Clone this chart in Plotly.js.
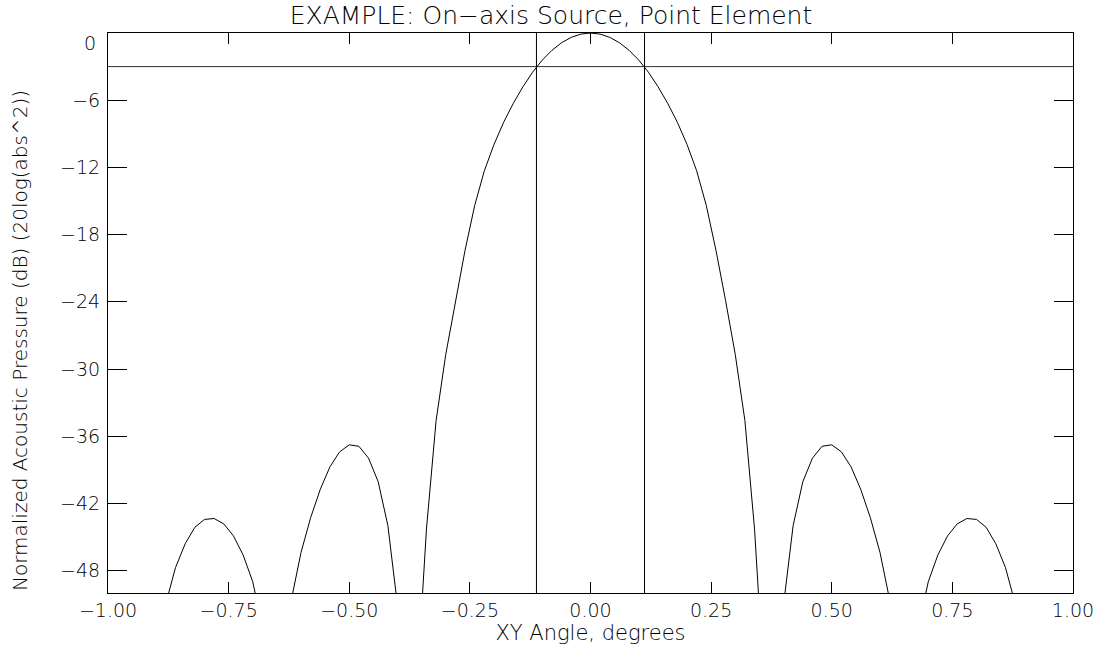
<!DOCTYPE html>
<html>
<head>
<meta charset="utf-8">
<script src="https://cdn.plot.ly/plotly-3.0.1.min.js"></script>
<style>html,body{margin:0;padding:0;background:#fff;}#chart{width:1104px;height:653px;}</style>
</head>
<body>
<div id="chart"></div>
<script>
// XY angle (degrees), sampled every 0.02
const angles = [
 -1.00,-0.98,-0.96,-0.94,-0.92,-0.90,-0.88,-0.86,-0.84,-0.82,
 -0.80,-0.78,-0.76,-0.74,-0.72,-0.70,-0.68,-0.66,-0.64,-0.62,
 -0.60,-0.58,-0.56,-0.54,-0.52,-0.50,-0.48,-0.46,-0.44,-0.42,
 -0.40,-0.38,-0.36,-0.34,-0.32,-0.30,-0.28,-0.26,-0.24,-0.22,
 -0.20,-0.18,-0.16,-0.14,-0.12,-0.10,-0.08,-0.06,-0.04,-0.02,
  0.00,
  0.02, 0.04, 0.06, 0.08, 0.10, 0.12, 0.14, 0.16, 0.18, 0.20,
  0.22, 0.24, 0.26, 0.28, 0.30, 0.32, 0.34, 0.36, 0.38, 0.40,
  0.42, 0.44, 0.46, 0.48, 0.50, 0.52, 0.54, 0.56, 0.58, 0.60,
  0.62, 0.64, 0.66, 0.68, 0.70, 0.72, 0.74, 0.76, 0.78, 0.80,
  0.82, 0.84, 0.86, 0.88, 0.90, 0.92, 0.94, 0.96, 0.98, 1.00
];
// Normalized acoustic pressure, dB
const pressureDb = [
 -55,-54,-55,-58,-63,-57,-50.9,-47.72,-45.6,-44.13,
 -43.43,-43.35,-43.83,-44.9,-46.6,-49.0,-53,-68,-60,-50.6,
 -46.39,-43.27,-40.74,-38.73,-37.4,-36.77,-36.9,-37.96,-40.07,-43.97,
 -51.1,-65,-58.5,-44.3,-34.6,-28.7,-23.9,-19.4,-15.4,-12.3,
 -9.95,-7.97,-6.28,-4.80,-3.50,-2.42,-1.55,-0.87,-0.39,-0.10,
  0,
 -0.10,-0.39,-0.87,-1.55,-2.42,-3.50,-4.80,-6.28,-7.97,-9.95,
 -12.3,-15.4,-19.4,-23.9,-28.7,-34.6,-44.3,-58.5,-65,-51.1,
 -43.97,-40.07,-37.96,-36.9,-36.77,-37.4,-38.73,-40.74,-43.27,-46.39,
 -50.6,-60,-68,-53,-49.0,-46.6,-44.9,-43.83,-43.35,-43.43,
 -44.13,-45.6,-47.72,-50.9,-57,-63,-58,-55,-54,-55
];
// -3 dB level and beam edges
const halfPowerDb = -3;
const beamEdges = [-0.112, 0.112];
const xRange = [-1, 1];
const yRange = [-50, 0];

const xTickVals = [-1.00,-0.75,-0.50,-0.25,0.00,0.25,0.50,0.75,1.00];
const xTickText = ['\u22121.00','\u22120.75','\u22120.50','\u22120.25','0.00','0.25','0.50','0.75','1.00'];
const yTickVals = [0,-6,-12,-18,-24,-30,-36,-42,-48];
const yTickText = ['','\u22126','\u221212','\u221218','\u221224','\u221230','\u221236','\u221242','\u221248'];

const FONT = 'DejaVu Sans, Liberation Sans, sans-serif';
const W = 200;
const lineStyle = {color:'#000', width:1};

const traces = [
  {x: angles, y: pressureDb, type:'scatter', mode:'lines', line: lineStyle, hoverinfo:'x+y'},
  {x: xRange, y: [halfPowerDb, halfPowerDb], type:'scatter', mode:'lines', line:{color:'#333', width:1}},
  {x: [beamEdges[0], beamEdges[0]], y: yRange, type:'scatter', mode:'lines', line: lineStyle},
  {x: [beamEdges[1], beamEdges[1]], y: yRange, type:'scatter', mode:'lines', line: lineStyle}
];

const layout = {
  width: 1104, height: 653,
  margin: {l:108, r:31, t:33, b:60},
  paper_bgcolor:'#fff', plot_bgcolor:'#fff',
  showlegend:false,
  font:{family:FONT, color:'#000', size:19, weight:W},
  title:{text:'EXAMPLE: On\u2212axis Source, Point Element', x:551/1104, xref:'container', xanchor:'center',
         y:1-15/653, yref:'container', yanchor:'middle', font:{family:FONT, size:25, color:'#000', weight:W}},
  xaxis:{range:xRange, tickvals:xTickVals, ticktext:xTickText, ticks:'inside', ticklen:11, tickwidth:1,
         tickcolor:'#000', showline:true, linecolor:'#000', linewidth:1, mirror:'ticks',
         showgrid:false, zeroline:false, tickfont:{family:FONT, size:19, weight:W},
         title:{text:'XY Angle, degrees', font:{family:FONT, size:21, weight:W}, standoff:1}},
  yaxis:{range:yRange, tickvals:yTickVals, ticktext:yTickText, ticks:'inside', ticklen:19, tickwidth:1,
         tickcolor:'#000', showline:true, linecolor:'#000', linewidth:1, mirror:'ticks',
         showgrid:false, zeroline:false, tickfont:{family:FONT, size:19, weight:W}, ticklabelstandoff:3},
  annotations:[
    {text:'0', xref:'paper', yref:'y', x:0, y:0, xanchor:'right', yanchor:'middle', xshift:-10, yshift:-10,
     showarrow:false, font:{family:FONT, size:19, color:'#000', weight:W}},
    {text:'Normalized Acoustic Pressure (dB) (20log(abs^2))', xref:'paper', yref:'paper',
     x:(20-108)/965, y:(593-341)/560, xanchor:'center', yanchor:'middle', textangle:-90,
     showarrow:false, font:{family:FONT, size:20, color:'#000', weight:W}}
  ]
};

Plotly.newPlot('chart', traces, layout, {displayModeBar:false, staticPlot:true});
</script>
</body>
</html>
